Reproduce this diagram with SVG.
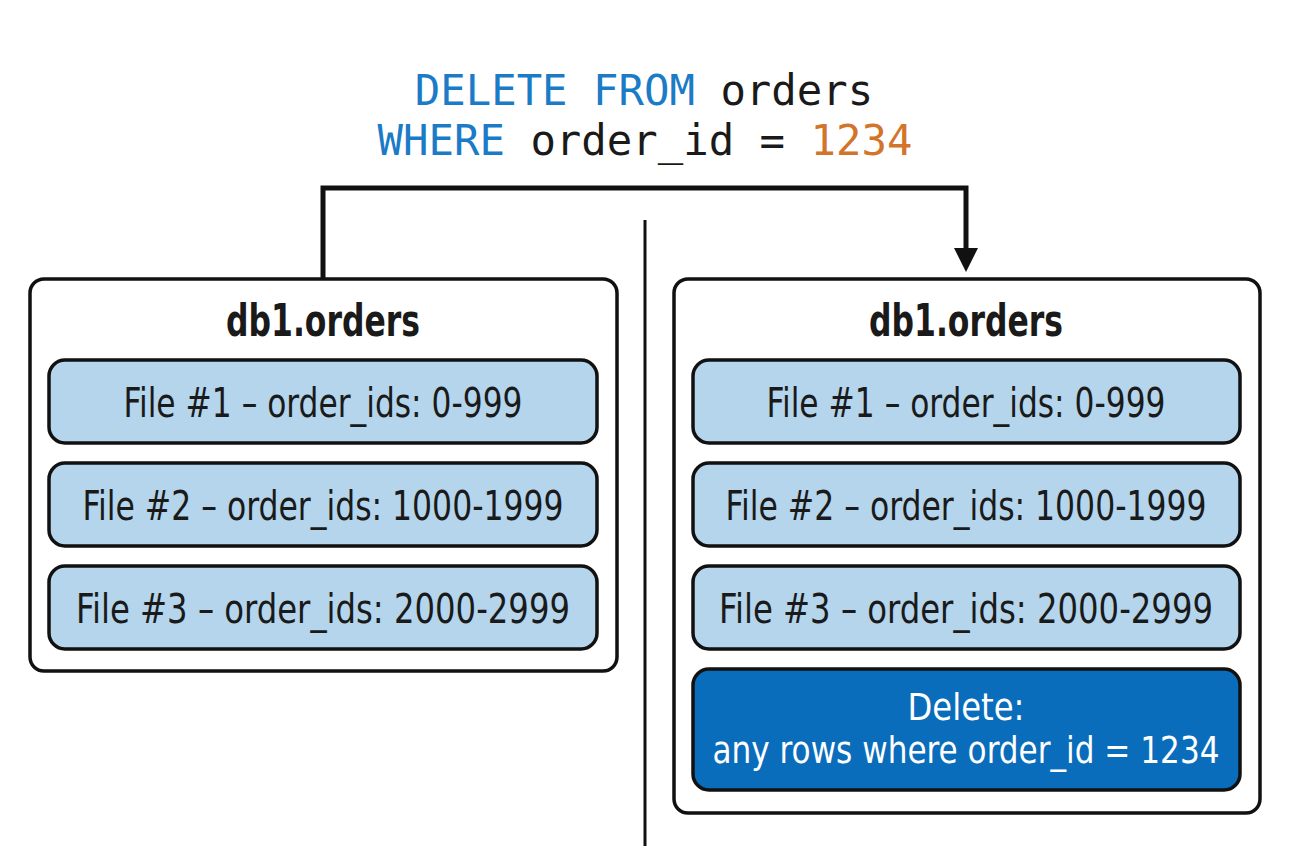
<svg xmlns="http://www.w3.org/2000/svg" width="1294" height="862" viewBox="0 0 1294 862">
<style>
.code{font-family:"DejaVu Sans Mono","Liberation Mono",monospace;font-size:42.3px}
.kw{fill:#1b7bc6}
.num{fill:#d2752a}
.plain{fill:#1a1a1a}
.outer{fill:#fff;stroke:#111;stroke-width:3.5}
.file{fill:#b4d5ec;stroke:#111;stroke-width:3.5}
.del{fill:#0a6dbb;stroke:#111;stroke-width:3.5}
.t{font-family:"DejaVu Sans Condensed","DejaVu Sans",sans-serif;font-stretch:condensed;font-size:40px;fill:#1a1a1a;text-anchor:middle}
.title{font-family:"DejaVu Sans Condensed","DejaVu Sans",sans-serif;font-stretch:condensed;font-size:44px;font-weight:bold;fill:#1a1a1a;text-anchor:middle}
.w{fill:#fff;font-size:38px}
</style>
<g id="query">
<text class="code" x="644" y="105" text-anchor="middle"><tspan class="kw">DELETE FROM</tspan><tspan class="plain"> orders</tspan></text>
<text class="code" x="645" y="155" text-anchor="middle"><tspan class="kw">WHERE</tspan><tspan class="plain"> order_id = </tspan><tspan class="num">1234</tspan></text>
</g>
<g id="connectors">
<polyline points="323,279 323,188 966,188 966,250" fill="none" stroke="#111" stroke-width="5" stroke-linejoin="miter"/>
<path d="M954,248 L978,248 L966,272 z" fill="#111"/>
<line x1="645" y1="220" x2="645" y2="846" stroke="#111" stroke-width="3"/>
</g>
<g id="left-table">
<rect class="outer" x="30" y="279" width="587" height="392" rx="14"/>
<text class="title" x="323" y="336" textLength="194" lengthAdjust="spacingAndGlyphs">db1.orders</text>
<g id="left-file1"><rect class="file" x="49" y="360" width="548" height="83" rx="16"/><text class="t" x="323" y="417" textLength="399" lengthAdjust="spacingAndGlyphs">File #1 – order_ids: 0-999</text></g>
<g id="left-file2"><rect class="file" x="49" y="463" width="548" height="83" rx="16"/><text class="t" x="323" y="520" textLength="481" lengthAdjust="spacingAndGlyphs">File #2 – order_ids: 1000-1999</text></g>
<g id="left-file3"><rect class="file" x="49" y="566" width="548" height="83" rx="16"/><text class="t" x="323" y="623" textLength="494" lengthAdjust="spacingAndGlyphs">File #3 – order_ids: 2000-2999</text></g>
</g>
<g id="right-table">
<rect class="outer" x="674" y="279" width="586" height="534" rx="14"/>
<text class="title" x="966" y="336" textLength="194" lengthAdjust="spacingAndGlyphs">db1.orders</text>
<g id="right-file1"><rect class="file" x="693" y="360" width="547" height="83" rx="16"/><text class="t" x="966" y="417" textLength="399" lengthAdjust="spacingAndGlyphs">File #1 – order_ids: 0-999</text></g>
<g id="right-file2"><rect class="file" x="693" y="463" width="547" height="83" rx="16"/><text class="t" x="966" y="520" textLength="481" lengthAdjust="spacingAndGlyphs">File #2 – order_ids: 1000-1999</text></g>
<g id="right-file3"><rect class="file" x="693" y="566" width="547" height="83" rx="16"/><text class="t" x="966" y="623" textLength="494" lengthAdjust="spacingAndGlyphs">File #3 – order_ids: 2000-2999</text></g>
<g id="right-delete"><rect class="del" x="693" y="669" width="547" height="121" rx="16"/>
<text class="t w" x="966" y="720" textLength="117" lengthAdjust="spacingAndGlyphs">Delete:</text>
<text class="t w" x="966" y="763" textLength="507" lengthAdjust="spacingAndGlyphs">any rows where order_id = 1234</text></g>
</g>
</svg>
